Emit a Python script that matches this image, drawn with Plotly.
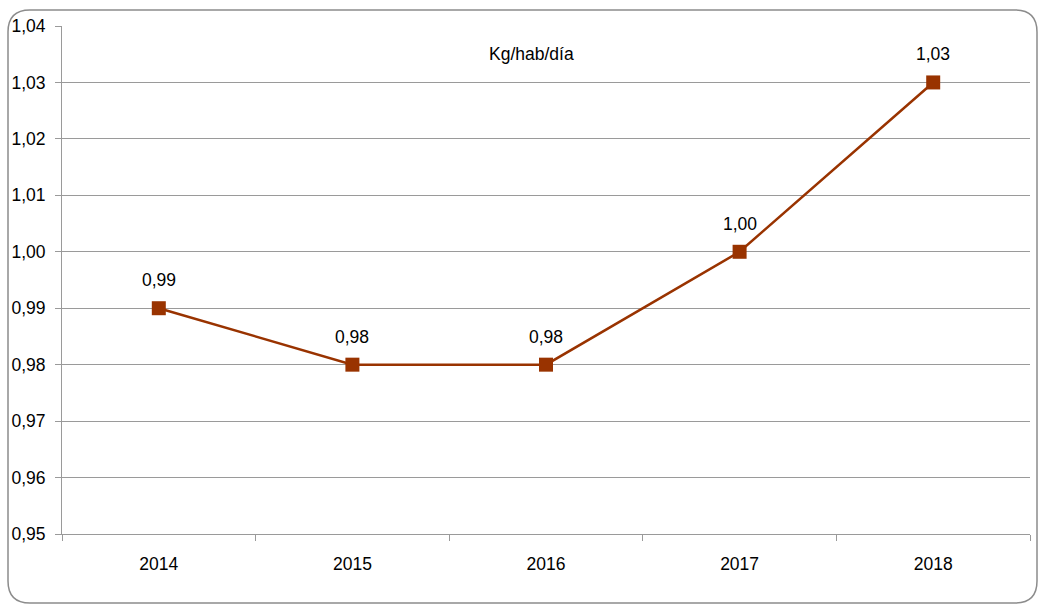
import plotly.graph_objects as go

years = ["2014", "2015", "2016", "2017", "2018"]
values = [0.99, 0.98, 0.98, 1.00, 1.03]
labels = ["0,99", "0,98", "0,98", "1,00", "1,03"]
unit_label = "Kg/hab/día"

W, H = 1040, 604
ml, mr, mt, mb = 62, 10, 26, 70
pw, ph = W - ml - mr, H - mt - mb

FONT = "Liberation Sans"
FS = 17.5
LINE_C = "#993300"
GRID_C = "#9a9a9a"

fig = go.Figure()
fig.add_trace(go.Scatter(
    x=years, y=values, mode="lines+markers",
    line=dict(color=LINE_C, width=2.5),
    marker=dict(symbol="square", size=14, color=LINE_C),
    hoverinfo="skip", showlegend=False,
))

for i, (v, lb) in enumerate(zip(values, labels)):
    fig.add_annotation(x=i, y=v, xref="x", yref="y", text=lb, showarrow=False, yshift=28,
                       font=dict(family=FONT, size=FS, color="#000000"))

fig.add_annotation(x=(531 - ml) / pw, y=1 - (42 - mt) / ph, xref="paper", yref="paper",
                   text=unit_label, showarrow=False,
                   font=dict(family=FONT, size=FS, color="#000000"))

# rounded outer border (page pixels -> paper)
def px(xp):
    return (xp - ml) / pw
def py(yp):
    return 1 - (yp - mt) / ph

x0, x1, y0, y1, r = 8, 1037, 10, 603, 22
path = (f"M {px(x0+r)},{py(y0)} L {px(x1-r)},{py(y0)} Q {px(x1)},{py(y0)} {px(x1)},{py(y0+r)} "
        f"L {px(x1)},{py(y1-r)} Q {px(x1)},{py(y1)} {px(x1-r)},{py(y1)} "
        f"L {px(x0+r)},{py(y1)} Q {px(x0)},{py(y1)} {px(x0)},{py(y1-r)} "
        f"L {px(x0)},{py(y0+r)} Q {px(x0)},{py(y0)} {px(x0+r)},{py(y0)} Z")
fig.add_shape(type="path", path=path, xref="paper", yref="paper",
              line=dict(color="#8c8c8c", width=1.5), layer="below")

fig.update_layout(
    width=W, height=H,
    margin=dict(l=ml, r=mr, t=mt, b=mb),
    paper_bgcolor="white", plot_bgcolor="white",
    separators=",.",
    font=dict(family=FONT, size=FS, color="#000000"),
    xaxis=dict(
        type="category", showgrid=False, showline=True, linecolor=GRID_C, linewidth=1,
        ticks="outside", tickson="boundaries", ticklen=6, tickcolor=GRID_C,
        tickfont=dict(family=FONT, size=FS), range=[-0.5, 4.5], fixedrange=True,
        ticklabelstandoff=14,
    ),
    yaxis=dict(
        range=[0.95, 1.04], dtick=0.01, tick0=0.95, tickformat=".2f",
        showgrid=True, gridcolor=GRID_C, gridwidth=1,
        showline=True, linecolor=GRID_C, linewidth=1,
        ticks="outside", ticklen=6, tickcolor=GRID_C,
        tickfont=dict(family=FONT, size=FS), zeroline=False,
        ticklabelstandoff=6,
    ),
)

fig.write_html(
    "out.html",
    config={"displayModeBar": False},
    post_script="document.body.style.margin='0';document.body.style.overflow='hidden';",
)
